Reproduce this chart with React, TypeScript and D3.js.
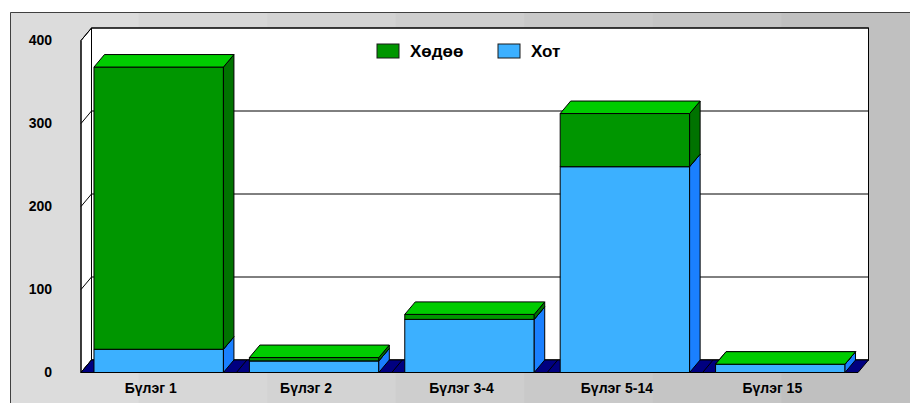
import React from 'react';
import * as d3 from 'd3';

// data
const categories = ['Бүлэг 1', 'Бүлэг 2', 'Бүлэг 3-4', 'Бүлэг 5-14', 'Бүлэг 15'];
const seriesNames = ['Хот', 'Хөдөө'];
const khot = [28, 14, 64, 248, 10];
const khodoo = [340, 4, 6, 64, 0];
const yTicks = [0, 100, 200, 300, 400];

const W = 910;
const H = 403;
const DX = 10.5; // 3d depth
const DY = -12.5;
const FONT = '"Liberation Sans", Arial, sans-serif';

const colors: Record<string, { front: string; side: string; top: string }> = {
  'Хот': { front: '#3cb0ff', side: '#1a80ff', top: '#3cb0ff' },
  'Хөдөө': { front: '#009600', side: '#007300', top: '#00cc00' },
};

const App: React.FC = () => {
  const x = d3
    .scaleBand<string>()
    .domain(categories)
    .range([81, 858])
    .paddingInner(0.167)
    .paddingOuter(0.0835);
  const y = d3.scaleLinear().domain([0, 400]).range([372.5, 40.5]);

  const rows = categories.map((c, i) => ({ cat: c, 'Хот': khot[i], 'Хөдөө': khodoo[i] }));
  const stacked = d3.stack<any>().keys(seriesNames)(rows);

  const x0 = x.range()[0];
  const x1 = x.range()[1];
  const step = x.step();
  const boundaries = d3.range(1, categories.length).map((i) => x0 + step * i);

  // stepped grey background, like the old excel gradient
  const bands = d3.range(7);
  const bandW = (W - 10) / bands.length;
  const bandColor = d3.scaleLinear<string>().domain([0, bands.length - 1]).range(['#dcdcdc', '#c0c0c0']);

  const pts = (p: [number, number][]) => p.map((d) => d.join(',')).join(' ');

  return (
    <svg width={W} height={H} style={{ position: 'absolute', left: 0, top: 0 }} fontFamily={FONT}>
      <rect x={0} y={0} width={W} height={H} fill="#ffffff" />
      {bands.map((b) => (
        <rect key={b} x={10 + b * bandW} y={12} width={bandW + 1} height={H} fill={bandColor(b)} />
      ))}
      <path d={`M10.5,${H} V12.5 H${W}`} fill="none" stroke="#404040" strokeWidth={1} />

      {/* back wall */}
      <rect x={x0 + DX} y={y(400) + DY} width={x1 - x0} height={y(0) - y(400)} fill="#ffffff" stroke="#000" />
      {/* side wall */}
      <polygon
        points={pts([[x0, y(0)], [x0 + DX, y(0) + DY], [x0 + DX, y(400) + DY], [x0, y(400)]])}
        fill="#ffffff"
        stroke="#000"
      />
      {yTicks.map((t) => (
        <g key={t}>
          <line x1={x0} y1={y(t)} x2={x0 + DX} y2={y(t) + DY} stroke="#000" />
          <line x1={x0 + DX} y1={y(t) + DY} x2={x1 + DX} y2={y(t) + DY} stroke="#000" />
          <text x={52} y={y(t)} dy="0.35em" textAnchor="end" fontSize={14} fontWeight="bold" fill="#000">
            {t}
          </text>
        </g>
      ))}

      {/* floor */}
      <polygon
        points={pts([[x0, y(0)], [x1, y(0)], [x1 + DX, y(0) + DY], [x0 + DX, y(0) + DY]])}
        fill="#000080"
        stroke="#000"
      />
      {boundaries.map((b, i) => (
        <line key={i} x1={b} y1={y(0)} x2={b + DX} y2={y(0) + DY} stroke="#000" />
      ))}
      <line x1={x0} y1={y(400)} x2={x0} y2={y(0)} stroke="#000" />

      {/* bars */}
      {categories.map((c, i) =>
        stacked.map((s) => {
          const d = s[i];
          const c0 = colors[s.key];
          const bx = x(c)!;
          const bw = x.bandwidth();
          const yt = y(d[1]);
          const yb = y(d[0]);
          return (
            <g key={c + s.key} stroke="#000" strokeWidth={1} strokeLinejoin="round">
              <rect x={bx} y={yt} width={bw} height={yb - yt} fill={c0.front} />
              <polygon
                points={pts([[bx + bw, yb], [bx + bw + DX, yb + DY], [bx + bw + DX, yt + DY], [bx + bw, yt]])}
                fill={c0.side}
              />
              <polygon
                points={pts([[bx, yt], [bx + bw, yt], [bx + bw + DX, yt + DY], [bx + DX, yt + DY]])}
                fill={c0.top}
              />
            </g>
          );
        })
      )}

      {/* category labels */}
      {categories.map((c) => (
        <text
          key={c}
          x={x(c)! + x.bandwidth() / 2 - 8}
          y={393}
          textAnchor="middle"
          fontSize={14}
          fontWeight="bold"
          fill="#000"
        >
          {c}
        </text>
      ))}

      {/* legend */}
      {['Хөдөө', 'Хот'].map((k, i) => (
        <g key={k} transform={`translate(${377 + i * 121},44)`}>
          <rect x={0} y={0} width={22} height={14} fill={colors[k].front} stroke="#1a1a1a" />
          <text x={33} y={13} fontSize={17} fontWeight="bold" fill="#000">
            {k}
          </text>
        </g>
      ))}
    </svg>
  );
};

export default App;
